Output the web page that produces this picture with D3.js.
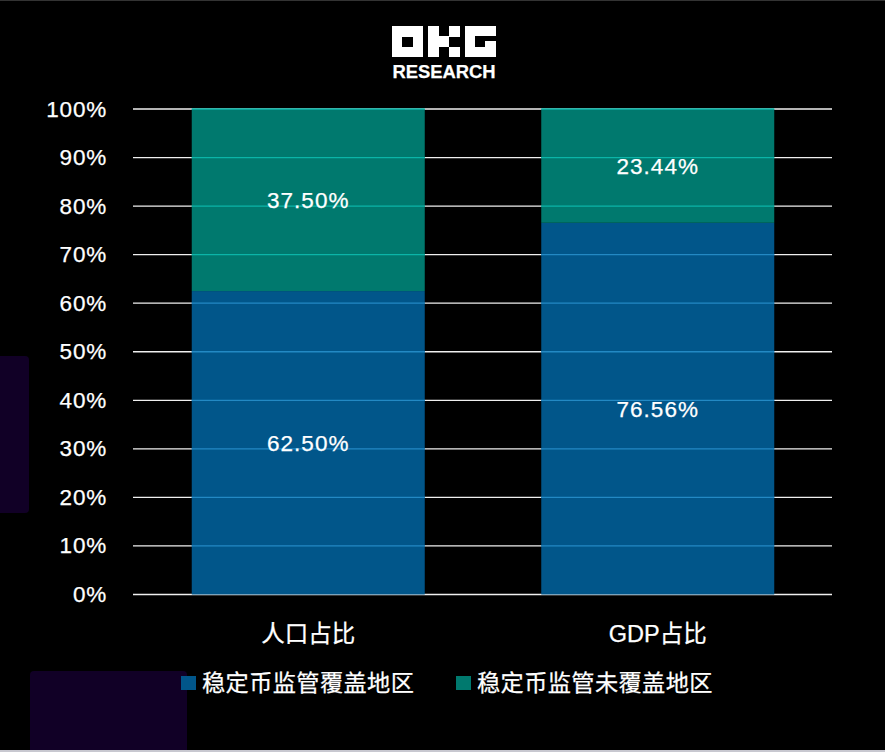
<!DOCTYPE html>
<html>
<head>
<meta charset="utf-8">
<script src="https://cdn.jsdelivr.net/npm/d3@7"></script>
<style>
html, body { margin: 0; padding: 0; background: #000; }
svg { display: block; }
text { font-family: "Liberation Sans", "Noto Sans CJK SC", sans-serif; fill: #fff; stroke: #fff; stroke-width: 0.25; }
</style>
</head>
<body>
<svg id="chart"></svg>
<script>
const categories = ["人口占比", "GDP占比"];
const seriesNames = ["稳定币监管覆盖地区", "稳定币监管未覆盖地区"];
const covered = [62.5, 76.56];
const uncovered = [37.5, 23.44];
const coveredLabels = ["62.50%", "76.56%"];
const uncoveredLabels = ["37.50%", "23.44%"];
const yTicks = [0, 10, 20, 30, 40, 50, 60, 70, 80, 90, 100];

const colors = ["#01568a", "#00796e"];
const gridOnBar = ["#2389c4", "#0bb5a8"];

const width = 885, height = 752;
const svg = d3.select("#chart").attr("width", width).attr("height", height);

// purple blocks left over in the background
svg.append("rect").attr("x", -8).attr("y", 356).attr("width", 37).attr("height", 157).attr("rx", 4).attr("fill", "#110026");
svg.append("rect").attr("x", 30).attr("y", 671).attr("width", 157).attr("height", 90).attr("rx", 4).attr("fill", "#110026");

// thin edges of the screenshot
svg.append("rect").attr("x", 0).attr("y", 0).attr("width", width).attr("height", 1).attr("fill", "#333");
svg.append("rect").attr("x", 0).attr("y", 750).attr("width", width).attr("height", 2).attr("fill", "#c8c8d0");

const x = d3.scaleBand().domain(categories).range([133.5, 832.5]).paddingInner(1 / 3).paddingOuter(1 / 6);
const y = d3.scaleLinear().domain([0, 100]).range([594.5, 109]);

// grid
svg.append("g").selectAll("line").data(yTicks).join("line")
    .attr("x1", 133).attr("x2", 832)
    .attr("y1", d => y(d)).attr("y2", d => y(d))
    .attr("stroke", "#f0f0f0").attr("stroke-width", 1.3);

// y labels
svg.append("g").selectAll("text").data(yTicks).join("text")
    .attr("x", 107).attr("y", d => y(d) + 7.5)
    .attr("text-anchor", "end")
    .attr("font-size", 22.5)
    .attr("letter-spacing", 0.8)
    .text(d => d + "%");

// stacks
const rows = categories.map((c, i) => ({ cat: c, covered: covered[i], uncovered: uncovered[i] }));
const stacked = d3.stack().keys(["covered", "uncovered"])(rows);

stacked.forEach((layer, s) => {
    const g = svg.append("g");
    g.selectAll("rect").data(layer).join("rect")
        .attr("x", d => x(d.data.cat))
        .attr("width", x.bandwidth())
        .attr("y", d => y(d[1]))
        .attr("height", d => y(d[0]) - y(d[1]))
        .attr("fill", colors[s]);
    layer.forEach(d => {
        const inside = yTicks.filter(t => t > d[0] && t <= d[1]);
        g.selectAll(null).data(inside).join("line")
            .attr("x1", x(d.data.cat)).attr("x2", x(d.data.cat) + x.bandwidth())
            .attr("y1", t => y(t)).attr("y2", t => y(t))
            .attr("stroke", gridOnBar[s]).attr("stroke-width", 1.3);
    });
});

// value labels
const labelSets = [coveredLabels, uncoveredLabels];
stacked.forEach((layer, s) => {
    svg.append("g").selectAll("text").data(layer).join("text")
        .attr("x", d => x(d.data.cat) + x.bandwidth() / 2)
        .attr("y", d => y((d[0] + d[1]) / 2) + 8)
        .attr("text-anchor", "middle")
        .attr("font-size", 22.5)
        .attr("letter-spacing", 1)
        .text((d, i) => labelSets[s][i]);
});

// category labels
svg.append("g").selectAll("text").data(categories).join("text")
    .attr("x", d => x(d) + x.bandwidth() / 2)
    .attr("y", 642)
    .attr("text-anchor", "middle")
    .attr("font-size", 23.5)
    .text(d => d);

// legend
const legendX = [181, 456];
seriesNames.forEach((name, i) => {
    svg.append("rect").attr("x", legendX[i]).attr("y", 676).attr("width", 15).attr("height", 14).attr("fill", colors[i]);
    svg.append("text").attr("x", legendX[i] + 21).attr("y", 691)
        .attr("font-size", 23.2).attr("letter-spacing", 0.4).text(name);
});

// logo
const logo = svg.append("g").attr("fill", "#fff");
const logoBlocks = [
    [392, 26, 31, 31],
    [428, 26, 11, 31], [439, 36, 10, 11], [449, 26, 11, 11], [449, 47, 11, 10],
    [465, 26, 31, 10], [465, 36, 10, 11], [465, 47, 31, 10], [485, 41, 11, 6]
];
logo.selectAll("rect").data(logoBlocks).join("rect")
    .attr("x", d => d[0]).attr("y", d => d[1]).attr("width", d => d[2]).attr("height", d => d[3]);
logo.append("rect").attr("x", 402).attr("y", 37).attr("width", 11).attr("height", 10).attr("fill", "#000");
svg.append("text").attr("x", 444).attr("y", 78).attr("text-anchor", "middle")
    .attr("font-size", 18.4).attr("font-weight", 700).text("RESEARCH");
</script>
</body>
</html>
